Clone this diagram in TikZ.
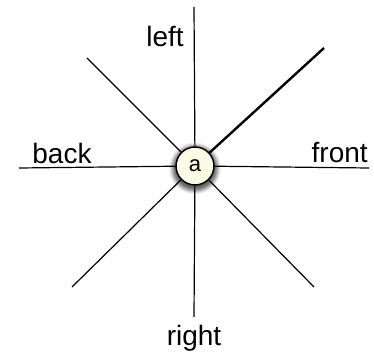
\documentclass[tikz,border=0pt]{standalone}
\usepackage{fontspec}
\setmainfont{Liberation Sans}
\usepackage{xcolor}
\usetikzlibrary{shadows.blur}
\definecolor{node-fill}{HTML}{FCFCE6}

\begin{document}
\begin{tikzpicture}[x=0.75pt, y=-0.75pt,
      every node/.style={font=\fontsize{21}{25}\selectfont},
      spoke/.style={line width=0.9pt},
      mainspoke/.style={line width=1.8pt}]
    \useasboundingbox (0,0) rectangle (374,352);
    \node[circle, draw, line width=1.1pt, fill=node-fill, inner sep=0pt,
          minimum size=28.5pt, font=\fontsize{16.5}{19}\selectfont,
          blur shadow={shadow xshift=0pt, shadow yshift=-1.5pt,
                       shadow scale=1.2, shadow opacity=60}]
          (a) at (195,166) {a};
    \coordinate (up)     at (194,7);
    \coordinate (down)   at (194,317);
    \coordinate (west)   at (19,168);
    \coordinate (east)   at (369,168);
    \coordinate (nw)     at (87,58);
    \coordinate (ne)     at (324,48);
    \coordinate (sw)     at (72,287);
    \coordinate (se)     at (314,287);
    \draw[spoke] (a) -- (up);
    \draw[spoke] (a) -- (down);
    \draw[spoke] (a) -- (west);
    \draw[spoke] (a) -- (east);
    \draw[spoke] (a) -- (nw);
    \draw[mainspoke] (a) -- (ne);
    \draw[spoke] (a) -- (sw);
    \draw[spoke] (a) -- (se);
    \node[anchor=base east, inner sep=0pt] (left) at (184,47) {left};
    \node[anchor=base, inner sep=0pt] (back) at (62,164) {back};
    \node[anchor=base east, inner sep=0pt] (front) at (368,163) {front};
    \node[anchor=base, inner sep=0pt] (right) at (194,345) {right};
\end{tikzpicture}
\end{document}
